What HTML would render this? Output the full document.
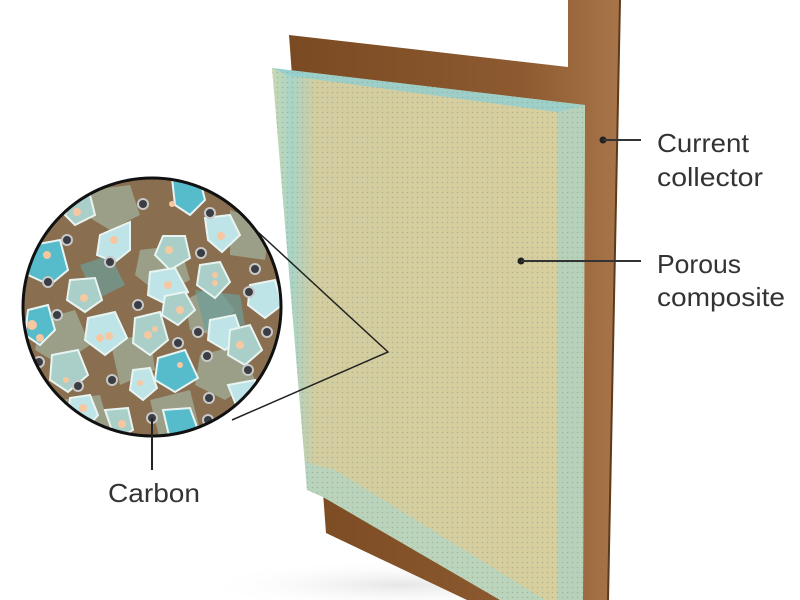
<!DOCTYPE html>
<html><head><style>
html,body{margin:0;padding:0;background:#fff;}
svg{display:block}
text{font-family:"Liberation Sans Narrow","Liberation Sans",sans-serif;fill:#333;}
</style></head><body>
<svg width="800" height="600" viewBox="0 0 800 600" xmlns="http://www.w3.org/2000/svg">
<defs>
<linearGradient id="cc" x1="0" x2="1" y1="0" y2="0">
<stop offset="0" stop-color="#7a4a22"/><stop offset="0.7" stop-color="#8d5a30"/><stop offset="1" stop-color="#a8754a"/>
</linearGradient>
<pattern id="dots" width="5" height="5" patternUnits="userSpaceOnUse">
<circle cx="2.5" cy="2.5" r="0.8" fill="#9aa592" opacity="0.7"/>
</pattern>
<linearGradient id="edgeL" x1="0" x2="1" y1="0" y2="0">
<stop offset="0" stop-color="#c9d9b2"/><stop offset="0.06" stop-color="#a9d4c8"/><stop offset="0.14" stop-color="#d3cd9f"/><stop offset="1" stop-color="#d8cf9e"/>
</linearGradient>
<clipPath id="circ"><circle cx="152" cy="307" r="129"/></clipPath>
<radialGradient id="shadow" cx="0.5" cy="0.5" r="0.5">
<stop offset="0" stop-color="#e6e6e6"/><stop offset="1" stop-color="#fff" stop-opacity="0"/>
</radialGradient>
</defs>
<rect width="800" height="600" fill="#fff"/>
<ellipse cx="400" cy="585" rx="200" ry="25" fill="url(#shadow)"/>
<!-- current collector -->
<polygon points="289,35 568,67 568,0 620,0 608,600 467,600 326,533" fill="url(#cc)"/>
<line x1="608" y1="600" x2="620" y2="0" stroke="#5e3a1a" stroke-width="2"/>
<!-- composite -->
<polygon points="272,68 585,105 583,600 500,600 323,497 307,490" fill="url(#edgeL)"/>
<polygon points="557,110 585,105 583,600 557,600" fill="#b2d2c0" opacity="0.85"/>
<polygon points="272,68 585,105 557,112 290,76" fill="#8fcfd2" opacity="0.8"/>
<polygon points="307,490 323,497 500,600 545,600 335,470 305,462" fill="#b2d6c6" opacity="0.75"/>
<polygon points="272,68 585,105 583,600 500,600 323,497 307,490" fill="url(#dots)"/>
<!-- circle -->
<g clip-path="url(#circ)">
<rect x="20" y="175" width="270" height="270" fill="#8a6e50"/>
<g fill="#9ea891" opacity="0.85">
<polygon points="90,190 130,185 140,215 110,230 85,215"/>
<polygon points="140,250 180,245 190,280 160,295 135,275"/>
<polygon points="230,210 270,225 265,260 230,255"/>
<polygon points="40,320 75,310 90,345 60,365 35,350"/>
<polygon points="110,340 150,335 155,370 120,385"/>
<polygon points="200,355 240,345 255,380 225,400 195,385"/>
<polygon points="60,400 100,395 110,430 70,440"/>
<polygon points="150,400 190,390 200,430 160,440"/>
<polygon points="185,300 215,285 235,310 215,335 190,330"/>
</g>
<g fill="#6e9e9a" opacity="0.7">
<polygon points="80,265 110,255 125,285 95,300"/>
<polygon points="195,290 240,295 245,325 205,330"/>
</g>
<g stroke="#e8f4f2" stroke-width="2">
<polygon points="172,178 200,180 205,200 190,215 175,205" fill="#56bccb"/>
<polygon points="70,200 90,195 95,215 75,225 65,215" fill="#a9cfc8"/>
<polygon points="100,235 130,222 130,250 115,262 97,255" fill="#bfe4e8"/>
<polygon points="33,245 60,240 68,270 50,285 28,275" fill="#56bccb"/>
<polygon points="163,236 185,236 190,258 170,270 155,255" fill="#a9cfc8"/>
<polygon points="205,218 230,215 240,235 222,252 208,240" fill="#bfe4e8"/>
<polygon points="150,272 175,268 188,292 168,305 148,295" fill="#bfe4e8"/>
<polygon points="165,296 185,292 195,310 178,325 162,315" fill="#a9cfc8"/>
<polygon points="200,265 220,262 230,282 215,298 197,285" fill="#a9cfc8"/>
<polygon points="70,280 95,278 102,300 85,312 67,300" fill="#a9cfc8"/>
<polygon points="28,310 48,305 55,330 40,345 25,335" fill="#56bccb"/>
<polygon points="88,318 115,312 127,338 105,355 85,340" fill="#bfe4e8"/>
<polygon points="135,318 160,312 168,340 150,355 133,343" fill="#a9cfc8"/>
<polygon points="210,320 235,315 243,338 225,350 208,340" fill="#bfe4e8"/>
<polygon points="230,330 250,325 262,350 245,365 228,355" fill="#a9cfc8"/>
<polygon points="250,285 275,280 282,305 265,318 248,305" fill="#bfe4e8"/>
<polygon points="52,355 78,350 88,375 68,392 50,380" fill="#a9cfc8"/>
<polygon points="158,358 185,350 198,378 175,392 155,380" fill="#56bccb"/>
<polygon points="133,370 150,368 157,388 143,400 130,390" fill="#bfe4e8"/>
<polygon points="70,398 90,395 98,415 85,430 68,420" fill="#bfe4e8"/>
<polygon points="105,410 128,408 133,430 115,440" fill="#a9cfc8"/>
<polygon points="163,410 190,408 198,430 170,440" fill="#56bccb"/>
<polygon points="228,385 255,380 260,405 240,415" fill="#bfe4e8"/>
</g>
<g fill="#f6c7a0">
<circle cx="77" cy="212" r="4"/><circle cx="114" cy="240" r="4"/><circle cx="47" cy="255" r="4"/>
<circle cx="172" cy="204" r="3"/><circle cx="169" cy="250" r="4"/><circle cx="168" cy="285" r="4"/>
<circle cx="221" cy="236" r="4"/><circle cx="215" cy="275" r="3"/><circle cx="215" cy="283" r="3"/>
<circle cx="84" cy="298" r="4"/><circle cx="109" cy="336" r="4"/><circle cx="100" cy="338" r="4"/>
<circle cx="148" cy="335" r="4"/><circle cx="155" cy="329" r="3"/><circle cx="180" cy="310" r="4"/>
<circle cx="32" cy="325" r="5"/><circle cx="40" cy="338" r="4"/><circle cx="250" cy="295" r="3"/>
<circle cx="240" cy="345" r="4"/><circle cx="66" cy="380" r="3"/><circle cx="180" cy="365" r="3"/>
<circle cx="140" cy="383" r="3"/><circle cx="83" cy="408" r="4"/><circle cx="122" cy="424" r="4"/>
</g>
<g fill="#3a3d44" stroke="#c8c8c8" stroke-width="2">
<circle cx="143" cy="204" r="5"/><circle cx="210" cy="213" r="5"/><circle cx="67" cy="240" r="5"/>
<circle cx="110" cy="262" r="5"/><circle cx="201" cy="253" r="5"/><circle cx="255" cy="269" r="5"/>
<circle cx="48" cy="282" r="5"/><circle cx="138" cy="305" r="5"/><circle cx="249" cy="292" r="5"/>
<circle cx="57" cy="315" r="5"/><circle cx="198" cy="332" r="5"/><circle cx="267" cy="332" r="5"/>
<circle cx="178" cy="343" r="5"/><circle cx="207" cy="356" r="5"/><circle cx="39" cy="362" r="5"/>
<circle cx="112" cy="380" r="5"/><circle cx="78" cy="386" r="5"/><circle cx="248" cy="370" r="5"/>
<circle cx="209" cy="398" r="5"/><circle cx="152" cy="418" r="5"/><circle cx="208" cy="420" r="5"/>
</g>
</g>
<circle cx="152" cy="307" r="129" fill="none" stroke="#111" stroke-width="3"/>
<!-- callout lines -->
<polyline points="258,232 388,352 232,420" fill="none" stroke="#222" stroke-width="1.5"/>
<line x1="152" y1="418" x2="152" y2="470" stroke="#222" stroke-width="2"/>
<!-- label connectors -->
<circle cx="603" cy="140" r="3.5" fill="#222"/>
<line x1="603" y1="140" x2="641" y2="140" stroke="#333" stroke-width="2"/>
<circle cx="521" cy="261" r="3.5" fill="#222"/>
<line x1="521" y1="261" x2="641" y2="261" stroke="#333" stroke-width="2"/>
<!-- labels -->
<text x="657" y="152" font-size="26" textLength="92" lengthAdjust="spacingAndGlyphs">Current</text>
<text x="657" y="186" font-size="26" textLength="106" lengthAdjust="spacingAndGlyphs">collector</text>
<text x="657" y="273" font-size="26" textLength="84" lengthAdjust="spacingAndGlyphs">Porous</text>
<text x="657" y="306" font-size="26" textLength="128" lengthAdjust="spacingAndGlyphs">composite</text>
<text x="108" y="502" font-size="26" textLength="92" lengthAdjust="spacingAndGlyphs">Carbon</text>
</svg>
</body></html>
